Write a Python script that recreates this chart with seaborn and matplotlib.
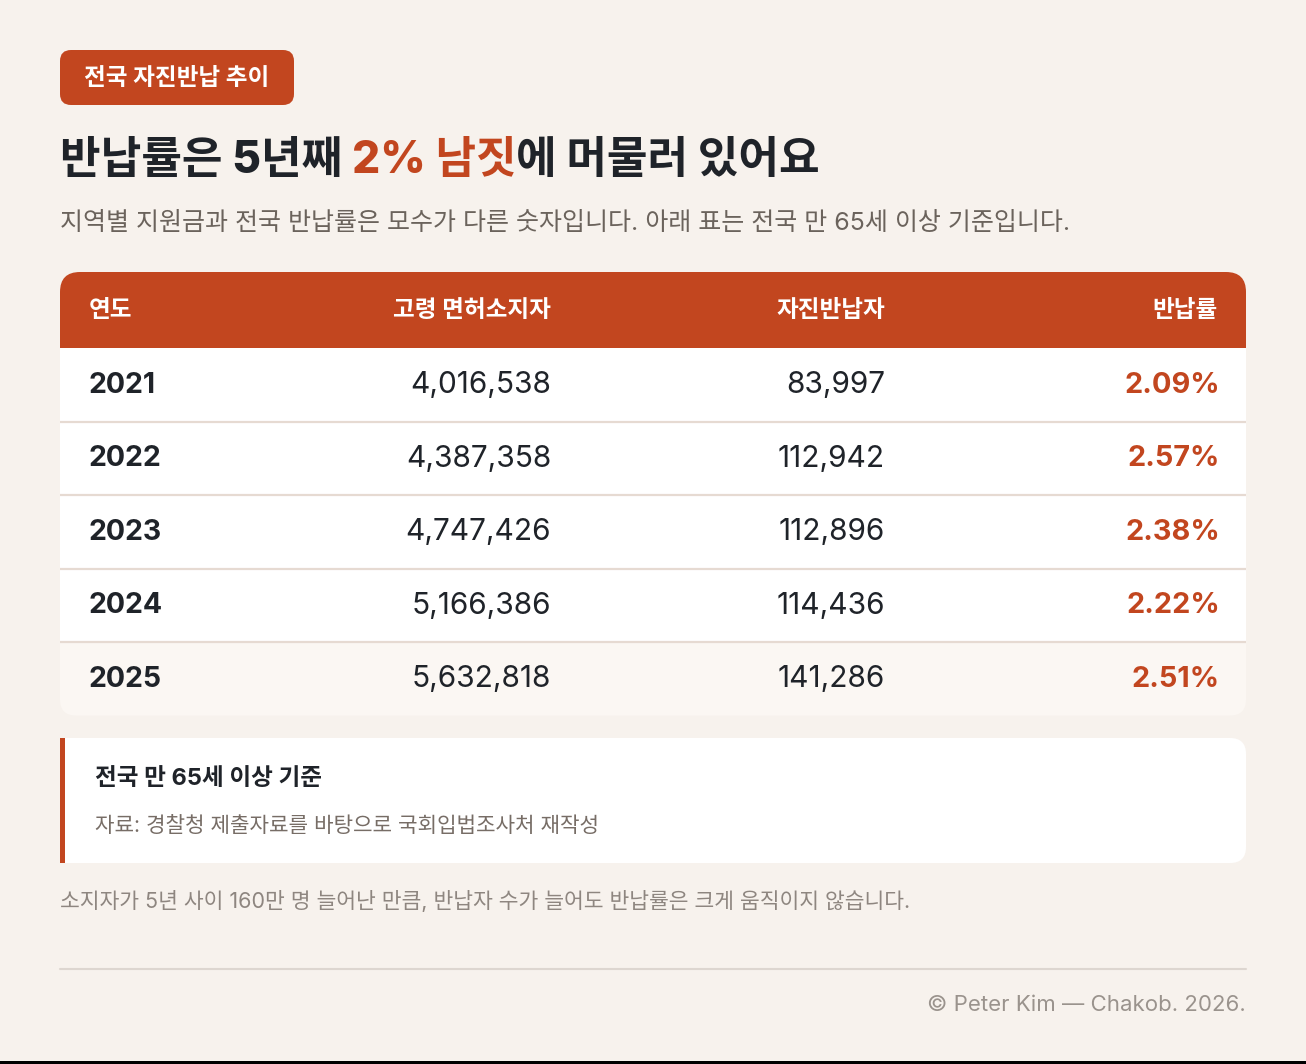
import matplotlib
matplotlib.use("Agg")
import matplotlib.pyplot as plt
from matplotlib.patches import FancyBboxPatch, Rectangle
import seaborn as sns

# ---------------- data ----------------
badge_text = "전국 자진반납 추이"
title_parts = ["반납률은 5년째", "2% 남짓", "에 머물러 있어요"]
subtitle = "지역별 지원금과 전국 반납률은 모수가 다른 숫자입니다. 아래 표는 전국 만 65세 이상 기준입니다."
columns = ["연도", "고령 면허소지자", "자진반납자", "반납률"]
years = [2021, 2022, 2023, 2024, 2025]
license_holders = [4016538, 4387358, 4747426, 5166386, 5632818]
returners = [83997, 112942, 112896, 114436, 141286]
return_rates = [2.09, 2.57, 2.38, 2.22, 2.51]
note_title = "전국 만 65세 이상 기준"
note_source = "자료: 경찰청 제출자료를 바탕으로 국회입법조사처 재작성"
footnote = "소지자가 5년 사이 160만 명 늘어난 만큼, 반납자 수가 늘어도 반납률은 크게 움직이지 않습니다."
credit = "© Peter Kim — Chakob. 2026."

# ---------------- style ----------------
sns.set_theme(style="white")
FAM = ["Inter", "Noto Sans CJK KR", "DejaVu Sans"]
plt.rcParams["font.family"] = FAM

BG = "#F7F2ED"
RED = "#C2461F"
DARK = "#1F2329"
GRAY = "#6B635C"
LINE = "#E6DAD2"

W, H = 1306, 1064
fig = plt.figure(figsize=(W / 100, H / 100), dpi=100, facecolor=BG)
ax = fig.add_axes([0, 0, 1, 1])
ax.set_xlim(0, W)
ax.set_ylim(H, 0)
ax.axis("off")
ax.set_facecolor(BG)

L, R = 60, 1246

# badge
ax.add_patch(FancyBboxPatch((L, 50), 234, 55, boxstyle="round,pad=0,rounding_size=11",
                            fc=RED, ec="none"))
ax.text(L + 117, 79, badge_text, color="white", fontsize=17, fontweight="bold",
        ha="center", va="center")

# title in three coloured pieces
fig.canvas.draw()
renderer = fig.canvas.get_renderer()

def width_of(s, **kw):
    t = ax.text(0, 0, s, **kw)
    bb = t.get_window_extent(renderer)
    t.remove()
    return bb.width

tkw = dict(fontsize=31.8, fontweight="heavy")
space_w = width_of("a a", **tkw) - width_of("aa", **tkw)
gaps = [space_w, 0]
colors = [DARK, RED, DARK]
x = L
for i, part in enumerate(title_parts):
    t = ax.text(x, 161, part, color=colors[i], ha="left", va="center", **tkw)
    x += t.get_window_extent(renderer).width
    if i < len(gaps):
        x += gaps[i]

ax.text(L, 224, subtitle, color=GRAY, fontsize=18, ha="left", va="center")

# table
head_top, head_h, row_h = 272, 76, 73.5
ax.add_patch(FancyBboxPatch((L, head_top), R - L, head_h, boxstyle="round,pad=0,rounding_size=20",
                            fc=RED, ec="none"))
ax.add_patch(Rectangle((L, head_top + 30), R - L, head_h - 30, fc=RED, ec="none"))

col_x = [89, 551, 885, 1218]
col_ha = ["left", "right", "right", "right"]
for cx, ha, name in zip(col_x, col_ha, columns):
    ax.text(cx, head_top + head_h / 2 + 1, name, color="white", fontsize=17, fontweight="bold",
            ha=ha, va="center")

n = len(years)
for i in range(n):
    top = head_top + head_h + i * row_h
    last = i == n - 1
    fc = "#FBF7F3" if last else "white"
    if last:
        ax.add_patch(FancyBboxPatch((L, top), R - L, row_h, boxstyle="round,pad=0,rounding_size=16",
                                    fc=fc, ec="none"))
        ax.add_patch(Rectangle((L, top), R - L, 30, fc=fc, ec="none"))
    else:
        ax.add_patch(Rectangle((L, top), R - L, row_h, fc=fc, ec="none"))
    if i > 0:
        ax.plot([L, R], [top, top], color=LINE, lw=1.6, solid_capstyle="butt")
    cy = top + row_h / 2 + 0.5
    ax.text(col_x[0] - 1, cy, str(years[i]), color=DARK, fontsize=20.5, fontweight="bold",
            ha="left", va="center")
    ax.text(col_x[1], cy, f"{license_holders[i]:,}", color=DARK, fontsize=21.5,
            ha="right", va="center")
    ax.text(col_x[2], cy, f"{returners[i]:,}", color=DARK, fontsize=21.5,
            ha="right", va="center")
    ax.text(col_x[3] + 2, cy, f"{return_rates[i]:.2f}%", color=RED, fontsize=20.8,
            fontweight="bold", ha="right", va="center")

# note box
nb_top, nb_h = 738, 125
ax.add_patch(FancyBboxPatch((L, nb_top), R - L, nb_h, boxstyle="round,pad=0,rounding_size=16",
                            fc="white", ec="none"))
ax.add_patch(Rectangle((L, nb_top), 40, nb_h, fc="white", ec="none"))
ax.add_patch(Rectangle((L, nb_top), 5, nb_h, fc=RED, ec="none"))
ax.text(95, 779, note_title, color=DARK, fontsize=17, fontweight="bold", ha="left", va="center")
ax.text(95, 826, note_source, color="#776D66", fontsize=15.3, ha="left", va="center")

ax.text(L, 901, footnote, color="#8E8680", fontsize=15.5, ha="left", va="center")

ax.plot([L, R], [969, 969], color="#DDD6D0", lw=1.5)
ax.text(R, 1005, credit, color="#9A938D", fontsize=16, ha="right", va="center")

ax.add_patch(Rectangle((0, H - 3), W, 3, fc="black", ec="none"))

fig.savefig("out.png", dpi=100, facecolor=BG)
